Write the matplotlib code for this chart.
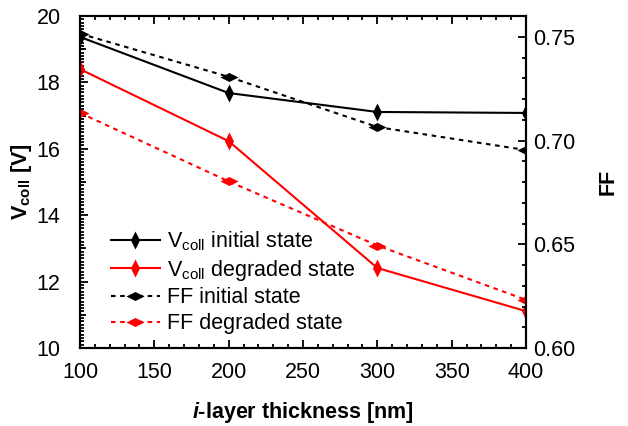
import matplotlib
matplotlib.use("Agg")
import matplotlib.pyplot as plt
from matplotlib.ticker import MultipleLocator
import numpy as np

plt.rcParams['font.family'] = ['Liberation Sans', 'DejaVu Sans']
plt.rcParams['mathtext.fontset'] = 'custom'
plt.rcParams['mathtext.rm'] = 'Liberation Sans'
plt.rcParams['mathtext.bf'] = 'Liberation Sans:bold'
plt.rcParams['mathtext.it'] = 'Liberation Sans:bold:italic'

# data
thickness = [100, 200, 300, 400]
vcoll_initial = [19.37, 17.68, 17.11, 17.08]
vcoll_degraded = [18.40, 16.23, 12.41, 11.11]
ff_initial = [0.7515, 0.7307, 0.7065, 0.6954]
ff_degraded = [0.7133, 0.6803, 0.6494, 0.6232]

# thin vertical diamond for Vcoll, flat diamond for FF
vdiamond = [(0, -1), (0.5, 0), (0, 1), (-0.5, 0), (0, -1)]
hdiamond = [(-1, 0), (0, 0.5), (1, 0), (0, -0.5), (-1, 0)]

fig = plt.figure(figsize=(6.28, 4.26), dpi=100)
ax = fig.add_axes([0.1274, 0.1831, 0.7102, 0.7793])
ax2 = ax.twinx()

l1, = ax.plot(thickness, vcoll_initial, color='black', lw=1.5, marker=vdiamond,
              markersize=13, markeredgewidth=0, label=r'V$_{\rm coll}$ initial state')
l2, = ax.plot(thickness, vcoll_degraded, color='red', lw=1.5, marker=vdiamond,
              markersize=13, markeredgewidth=0, label=r'V$_{\rm coll}$ degraded state')
l3, = ax2.plot(thickness, ff_initial, color='black', lw=1.5, ls=(0, (2.2, 2.2)),
               marker=hdiamond, markersize=13, markeredgewidth=0, label='FF initial state')
l4, = ax2.plot(thickness, ff_degraded, color='red', lw=1.5, ls=(0, (2.2, 2.2)),
               marker=hdiamond, markersize=13, markeredgewidth=0, label='FF degraded state')

ax.set_xlim(100, 400)
ax.set_ylim(10, 20)
ax2.set_ylim(0.60, 0.76)

ax.xaxis.set_major_locator(MultipleLocator(50))
ax.xaxis.set_minor_locator(MultipleLocator(10))
ax.yaxis.set_major_locator(MultipleLocator(2))
ax.yaxis.set_minor_locator(MultipleLocator(0.1))
ax2.yaxis.set_major_locator(MultipleLocator(0.05))
ax2.yaxis.set_minor_locator(MultipleLocator(0.01))
ax2.yaxis.set_major_formatter(matplotlib.ticker.FormatStrFormatter('%.2f'))

ax.tick_params(which='both', direction='in', top=True, right=False, width=1.3)
ax.tick_params(which='major', length=6, labelsize=15.5)
ax.tick_params(axis='x', which='major', pad=10)
ax.tick_params(axis='y', which='major', pad=14)
ax.tick_params(which='minor', length=3)
ax2.tick_params(which='both', direction='in', width=1.3)
ax2.tick_params(which='major', length=6, labelsize=15.5, pad=5)
ax2.tick_params(which='minor', length=3)

# medium ticks at odd volts
sec = ax.secondary_yaxis('left')
sec.set_yticks([11, 13, 15, 17, 19])
sec.tick_params(direction='in', length=4.5, width=1.3, labelleft=False)
sec.spines['left'].set_visible(False)

for a in (ax, ax2):
    for s in a.spines.values():
        s.set_linewidth(1.5)

ax.set_xlabel(r'$\mathit{i}$-layer thickness [nm]', fontsize=15.5, fontweight='bold', labelpad=12)
ax.set_ylabel(r'$\mathbf{V}_{\mathbf{coll}}$ [V]', fontsize=15.5, fontweight='bold', labelpad=2)
ax2.set_ylabel('FF', fontsize=15.5, fontweight='bold', labelpad=16)

ax.legend(handles=[l1, l2, l3, l4], loc='lower left', bbox_to_anchor=(0.03, -0.01),
          frameon=False, fontsize=15.5, handlelength=2.3, labelspacing=0.22,
          handletextpad=0.3, borderaxespad=0.4)

fig.savefig('out.png', dpi=100)
